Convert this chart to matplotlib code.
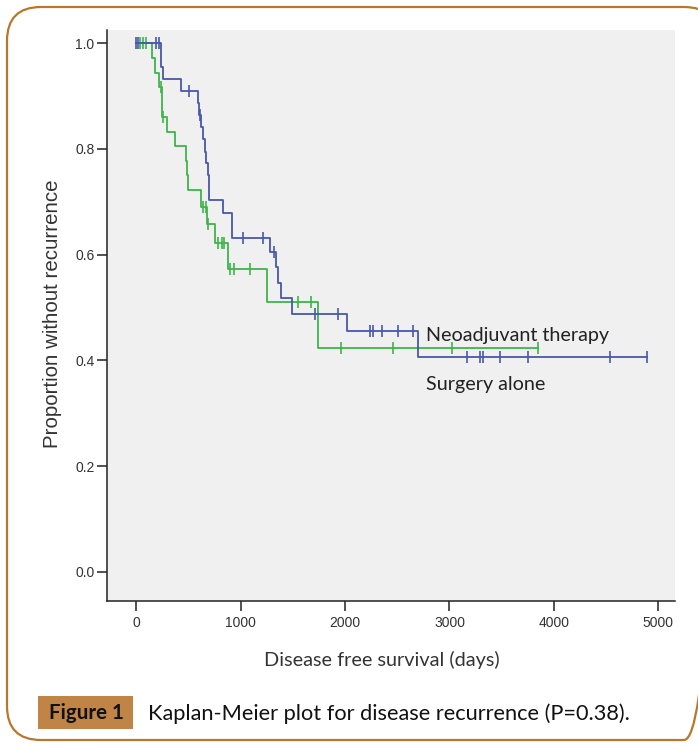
import numpy as np
import matplotlib
matplotlib.use("Agg")
import matplotlib.pyplot as plt
from matplotlib.patches import FancyBboxPatch, Rectangle

# Neoadjuvant therapy: event times and survival level after each step
neo_times = [0, 240, 258, 431, 593, 600, 625, 640, 655, 670, 685, 700,
             833, 919, 1282, 1340, 1360, 1388, 1493, 2019, 2699]
neo_surv = [1.0, 0.955, 0.932, 0.909, 0.886, 0.864, 0.841, 0.818, 0.795,
            0.773, 0.75, 0.703, 0.679, 0.631, 0.605, 0.577, 0.546, 0.518,
            0.488, 0.456, 0.406]
neo_censor = [0, 19, 191, 220, 507, 612, 1024, 1215, 1320, 1713, 1933,
              2239, 2268, 2354, 2507, 2651, 3167, 3292, 3321, 3483, 3751,
              4536, 4890]

# Surgery alone
surg_times = [0, 153, 182, 215, 245, 250, 290, 370, 478, 490, 500, 622,
              680, 756, 880, 1254, 1742]
surg_surv = [1.0, 0.972, 0.944, 0.917, 0.889, 0.861, 0.833, 0.806, 0.778,
             0.75, 0.722, 0.69, 0.658, 0.622, 0.573, 0.510, 0.423]
surg_censor = [40, 65, 95, 235, 258, 641, 670, 689, 785, 823, 842, 900,
               938, 1091, 1550, 1675, 1962, 2459, 3024, 3847]

xticks = [0, 1000, 2000, 3000, 4000, 5000]
yticks = [0.0, 0.2, 0.4, 0.6, 0.8, 1.0]

BLUE = "#4858aa"
GREEN = "#3db549"
BROWN = "#b8772e"


def km_step(times, surv, censor):
    end = max(max(times), max(censor))
    t = np.array(list(times) + [end])
    s = np.array(list(surv) + [surv[-1]])
    return t, s


def level_at(times, surv, x):
    idx = np.searchsorted(times, x, side="right") - 1
    return np.array(surv)[idx]


fig = plt.figure(figsize=(6.98, 7.47), dpi=100)

# frame / caption layer in pixel units
bg = fig.add_axes([0, 0, 1, 1])
bg.set_xlim(0, 698)
bg.set_ylim(747, 0)
bg.axis("off")
bg.add_patch(FancyBboxPatch((7, 7), 711, 733,
                            boxstyle="round,pad=0,rounding_size=34",
                            fc="none", ec=BROWN, lw=1.6))
bg.add_patch(Rectangle((38, 696), 95, 33, fc="#c08447", ec="none"))
bg.text(86, 713, "Figure 1", ha="center", va="center", fontsize=14.8,
        fontweight="bold", family="Lato", color="#111111")
bg.text(148, 714, "Kaplan-Meier plot for disease recurrence (P=0.38).",
        ha="left", va="center", fontsize=15.7, family="Lato", color="#111111")
bg.text(53, 314, "Proportion without recurrence", rotation=90,
        ha="center", va="center", fontsize=14.8, family="Liberation Sans",
        color="#333333")
bg.text(382, 660, "Disease free survival (days)", ha="center", va="center",
        fontsize=14.3, family="Lato", color="#333333")

ax = fig.add_axes([107 / 698, 146 / 747, 568 / 698, 571 / 747])
ax.set_facecolor("#f0f0f0")

for times, surv, cens, col in [(surg_times, surg_surv, surg_censor, GREEN),
                               (neo_times, neo_surv, neo_censor, BLUE)]:
    t, s = km_step(times, surv, cens)
    ax.step(t, s, where="post", color=col, lw=1.3)
    ax.plot(cens, level_at(times, surv, cens), ls="none", marker="|",
            ms=8, mew=1.2, color=col)

ax.text(2780, 0.448, "Neoadjuvant therapy", ha="left", va="center",
        fontsize=14.2, family="Lato", color="#222222")
ax.text(2780, 0.355, "Surgery alone", ha="left", va="center",
        fontsize=14.2, family="Lato", color="#222222")

ax.set_xlim(-280, 5160)
ax.set_ylim(-0.055, 1.025)
ax.set_xticks(xticks)
ax.set_yticks(yticks)
ax.set_yticklabels([f"{v:.1f}" for v in yticks])
for side in ["top", "right"]:
    ax.spines[side].set_visible(False)
for side in ["left", "bottom"]:
    ax.spines[side].set_color("#222222")
    ax.spines[side].set_linewidth(1.1)
ax.tick_params(axis="both", direction="out", length=7, width=1.1,
               color="#222222", labelcolor="#333333", labelsize=10)
ax.tick_params(axis="y", pad=2)
ax.tick_params(axis="x", pad=4)
for lab in ax.get_xticklabels() + ax.get_yticklabels():
    lab.set_family("Liberation Sans")

fig.savefig("out.png", dpi=100)
